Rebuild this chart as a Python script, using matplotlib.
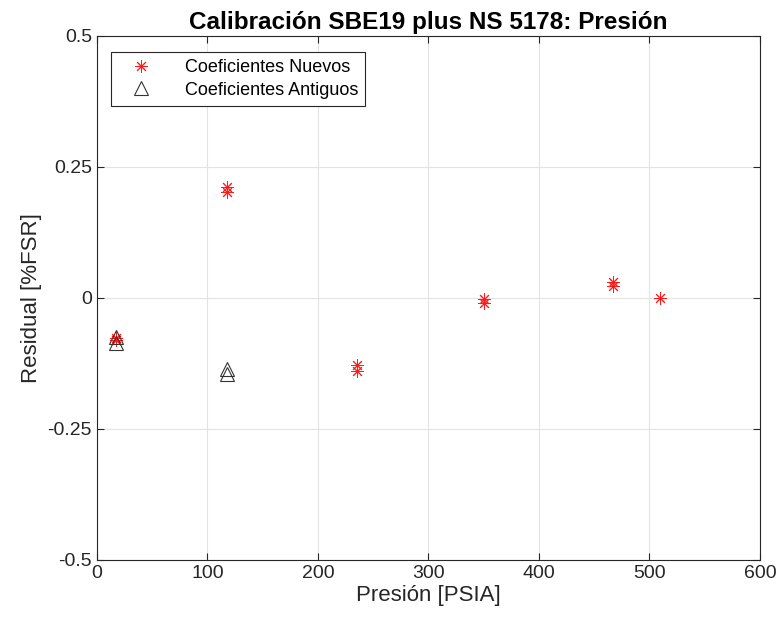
import numpy as np
import matplotlib
matplotlib.use("Agg")
import matplotlib.pyplot as plt

plt.rcParams['font.family'] = ['Liberation Sans', 'DejaVu Sans']

# residuales
presion_nuevos = [17, 17, 118, 118, 235, 235, 350, 350, 467, 467, 510]
residual_nuevos = [-0.077, -0.080, 0.211, 0.202, -0.129, -0.140, -0.002, -0.009, 0.031, 0.022, 0.000]
presion_antiguos = [17, 17, 118, 118]
residual_antiguos = [-0.075, -0.087, -0.136, -0.146]

xticks = [0, 100, 200, 300, 400, 500, 600]
yticks = [-0.5, -0.25, 0, 0.25, 0.5]
ytick_labels = ['-0.5', '-0.25', '0', '0.25', '0.5']

eje = '#262626'

fig = plt.figure(figsize=(7.81, 6.27), dpi=100)
ax = fig.add_axes([0.124, 0.107, 0.849, 0.836])

ax.plot(presion_nuevos, residual_nuevos, linestyle='none', marker=(8, 2, 0),
        markersize=9, markeredgewidth=0.7, color='#ff1a1a', label='Coeficientes Nuevos')
ax.plot(presion_antiguos, residual_antiguos, linestyle='none', marker='^',
        markersize=10, markerfacecolor='none', markeredgecolor='#333333',
        markeredgewidth=0.8, label='Coeficientes Antiguos')

ax.set_xlim(0, 600)
ax.set_ylim(-0.5, 0.5)
ax.set_xticks(xticks)
ax.set_yticks(yticks)
ax.set_yticklabels(ytick_labels)
ax.grid(True, color='#e3e3e3', linewidth=0.8)
ax.set_axisbelow(True)

ax.tick_params(direction='in', top=True, right=True, length=5, width=0.8,
               colors=eje, labelsize=14, labelcolor=eje)
for s in ax.spines.values():
    s.set_color(eje)
    s.set_linewidth(0.8)

ax.set_xlabel('Presión [PSIA]', fontsize=16, color=eje, labelpad=2)
ax.set_ylabel('Residual [%FSR]', fontsize=16, color=eje)
ax.set_title('Calibración SBE19 plus NS 5178: Presión', fontsize=17.5,
             fontweight='bold', color='black', pad=5)

leg = ax.legend(loc='upper left', bbox_to_anchor=(0.021, 0.969), fontsize=13,
                frameon=True, fancybox=False, edgecolor=eje, framealpha=1,
                borderpad=0.4, borderaxespad=0, handletextpad=1.2,
                labelspacing=0.3, handlelength=2.5)
leg.get_frame().set_linewidth(0.8)

fig.savefig('out.png', dpi=100)
